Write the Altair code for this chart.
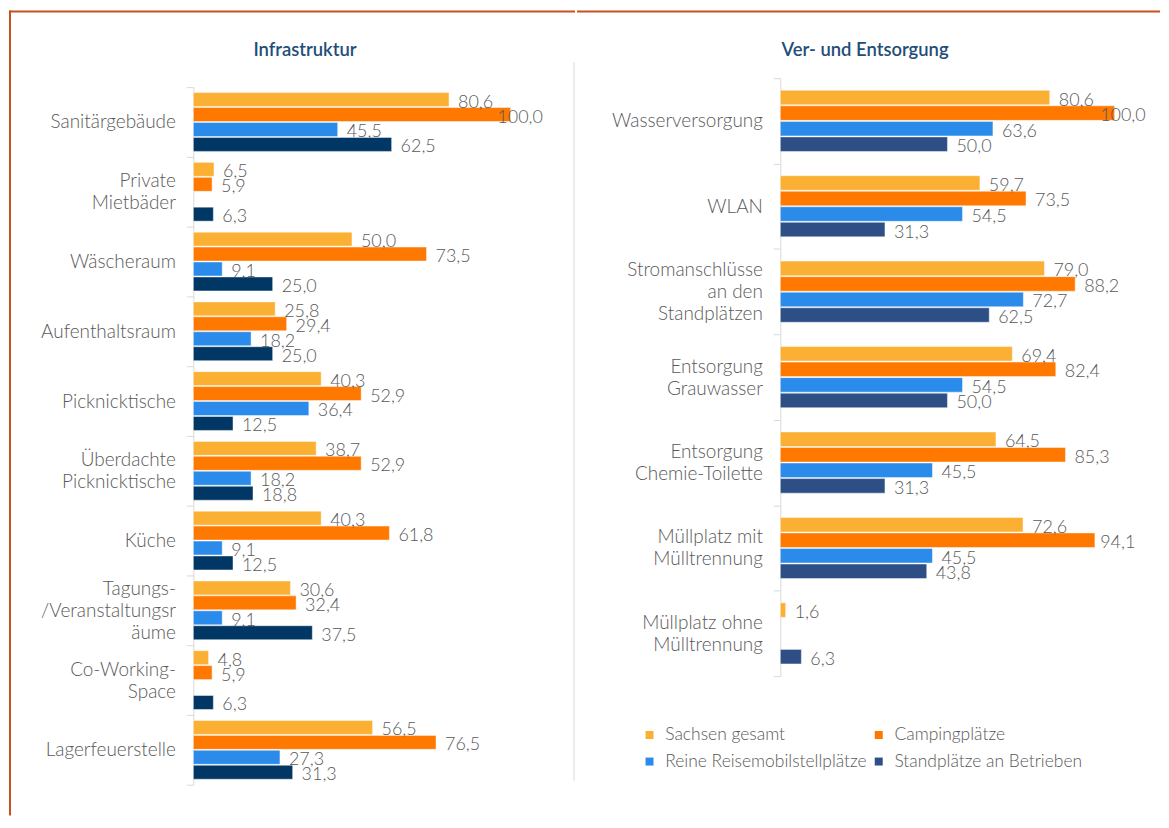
import altair as alt
import pandas as pd

series = ["Sachsen gesamt", "Campingplätze", "Reine Reisemobilstellplätze", "Standplätze an Betrieben"]

infra_categories = ["Sanitärgebäude", "Private|Mietbäder", "Wäscheraum", "Aufenthaltsraum",
                    "Picknicktische", "Überdachte|Picknicktische", "Küche",
                    "Tagungs-|/Veranstaltungsr|äume", "Co-Working-|Space", "Lagerfeuerstelle"]
infra_sachsen = [80.6, 6.5, 50.0, 25.8, 40.3, 38.7, 40.3, 30.6, 4.8, 56.5]
infra_camping = [100.0, 5.9, 73.5, 29.4, 52.9, 52.9, 61.8, 32.4, 5.9, 76.5]
infra_reise = [45.5, None, 9.1, 18.2, 36.4, 18.2, 9.1, 9.1, None, 27.3]
infra_betriebe = [62.5, 6.3, 25.0, 25.0, 12.5, 18.8, 12.5, 37.5, 6.3, 31.3]

ver_categories = ["Wasserversorgung", "WLAN", "Stromanschlüsse|an den|Standplätzen",
                  "Entsorgung|Grauwasser", "Entsorgung|Chemie-Toilette",
                  "Müllplatz mit|Mülltrennung", "Müllplatz ohne|Mülltrennung"]
ver_sachsen = [80.6, 59.7, 79.0, 69.4, 64.5, 72.6, 1.6]
ver_camping = [100.0, 73.5, 88.2, 82.4, 85.3, 94.1, None]
ver_reise = [63.6, 54.5, 72.7, 54.5, 45.5, 45.5, None]
ver_betriebe = [50.0, 31.3, 62.5, 50.0, 31.3, 43.8, 6.3]

titles = ["Infrastruktur", "Ver- und Entsorgung"]

colors_left = ["#FBB034", "#FF7800", "#2A8BEA", "#003764"]
colors_right = ["#FBB034", "#FF7800", "#2A8BEA", "#2E4F85"]

TEXT = "#595959"
FONT = "Lato"
FRAME = "#C8501E"
GRID = "#D9D9D9"
TITLE = "#1F4E79"
LINE_H = 22


def long_df(cats, cols):
    rows = []
    for s, vals in zip(series, cols):
        for c, v in zip(cats, vals):
            if v is not None:
                rows.append({"cat": c, "series": s, "value": v})
    return pd.DataFrame(rows)


one = pd.DataFrame({"d": [0]})

# shift multi-line labels so that the whole block is centred on its band
label_offset = {
    "condition": [
        {"test": "length(split(datum.label, '|')) == 3", "value": -LINE_H},
        {"test": "length(split(datum.label, '|')) == 2", "value": -LINE_H / 2},
    ],
    "value": 0,
}


def panel(df, cats, colors, width, height, yrange, xmax, pad_outer, title, title_xy,
          legend, decorations):
    y = alt.Y("cat:N", sort=cats,
              scale=alt.Scale(paddingInner=0, paddingOuter=0, range=yrange),
              axis=alt.Axis(title=None, labelExpr="split(datum.label, '|')",
                            tickBand="extent", domainColor=GRID, tickColor=GRID,
                            tickSize=7, labelPadding=11, labelFont=FONT,
                            labelFontSize=19, labelFontWeight=300,
                            labelColor=TEXT, labelLineHeight=LINE_H,
                            labelOffset=label_offset, labelLimit=300))
    yoff = alt.YOffset("series:N", sort=series,
                       scale=alt.Scale(domain=series, paddingInner=0.065,
                                       paddingOuter=pad_outer))
    xsc = alt.Scale(domain=[0, xmax], nice=False, zero=True)
    color = alt.Color("series:N", scale=alt.Scale(domain=series, range=colors),
                      legend=legend)
    base = alt.Chart(df).transform_calculate(
        labx="min(datum.value, 93)",
        label="replace(format(datum.value, '.1f'), '.', ',')",
    )
    bars = base.mark_bar(stroke="white", strokeWidth=1, strokeOpacity=0.45).encode(
        x=alt.X("value:Q", scale=xsc, axis=None), y=y, yOffset=yoff, color=color)
    labels = base.mark_text(align="left", baseline="middle", dx=9, dy=3, font=FONT,
                            fontSize=18, fontWeight=300, color=TEXT).encode(
        x=alt.X("labx:Q", scale=xsc, axis=None), y=y, yOffset=yoff,
        text="label:N")
    head = alt.Chart(one).mark_text(align="center", baseline="middle", font=FONT,
                                    fontSize=18.5, fontWeight=600,
                                    color=TITLE).encode(
        x=alt.value(title_xy[0]), y=alt.value(title_xy[1]), text=alt.value(title))
    layers = [bars, labels, head] + decorations
    return alt.layer(*layers).properties(width=width, height=height)


W1, H1 = 382, 709
W2, H2 = 369, 600

left_deco = [
    alt.Chart(one).mark_rule(color=FRAME, strokeWidth=2).encode(
        x=alt.value(-184), y=alt.value(-68), y2=alt.value(740)),
    alt.Chart(one).mark_rule(color=FRAME, strokeWidth=2, strokeCap="square").encode(
        y=alt.value(-67), x=alt.value(-184), x2=alt.value(W1)),
    alt.Chart(one).mark_rule(color=GRID, strokeWidth=1).encode(
        x=alt.value(W1), y=alt.value(-16), y2=alt.value(705)),
]
right_deco = [
    alt.Chart(one).mark_rule(color=FRAME, strokeWidth=2, strokeCap="square").encode(
        y=alt.value(-67), x=alt.value(-203), x2=alt.value(380)),
]

legend = alt.Legend(title=None, orient="none", legendX=-140, legendY=650, columns=2,
                    direction="horizontal", columnPadding=3, rowPadding=8,
                    symbolType="square", symbolSize=64, symbolStrokeWidth=0,
                    labelFont=FONT, labelFontSize=17.5, labelFontWeight=300,
                    labelColor=TEXT, labelOffset=7, labelLimit=400)

left = panel(long_df(infra_categories,
                     [infra_sachsen, infra_camping, infra_reise, infra_betriebe]),
             infra_categories, colors_left, W1, H1, [9, 709], 120, 0.367,
             titles[0], (112, -28), None, left_deco)
right = panel(long_df(ver_categories,
                      [ver_sachsen, ver_camping, ver_reise, ver_betriebe]),
              ver_categories, colors_right, W2, H2, [0, 600], 110, 0.78,
              titles[1], (85, -28), legend, right_deco)

chart = alt.hconcat(left, right, spacing=0).properties(
    padding=0, background="white"
).resolve_scale(
    color="independent", x="independent", y="independent", yOffset="independent"
).configure_view(stroke=None)

chart.save("out.html", embed_options={"renderer": "svg", "actions": False})
